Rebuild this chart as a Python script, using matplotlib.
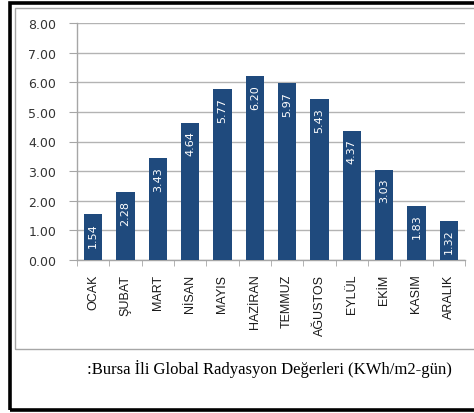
import matplotlib
matplotlib.use("Agg")
import matplotlib.pyplot as plt
from matplotlib.patches import Rectangle

months = ["OCAK", "ŞUBAT", "MART", "NİSAN", "MAYIS", "HAZİRAN", "TEMMUZ",
          "AĞUSTOS", "EYLÜL", "EKİM", "KASIM", "ARALIK"]
values = [1.54, 2.28, 3.43, 4.64, 5.77, 6.20, 5.97, 5.43, 4.37, 3.03, 1.83, 1.32]
yticks = [0, 1, 2, 3, 4, 5, 6, 7, 8]
caption = ":Bursa İli Global Radyasyon Değerleri (KWh/m2-gün)"

W, H = 474, 414
fig = plt.figure(figsize=(W / 100, H / 100), dpi=100)
fig.patch.set_facecolor("white")

# borders
fig.patches.append(Rectangle((9.5 / W, 1 - 410.5 / H), 500 / W, 407 / H,
                             transform=fig.transFigure, fill=False,
                             edgecolor="black", linewidth=2.6))
fig.patches.append(Rectangle((14.5 / W, 1 - 349.5 / H), 500 / W, 341 / H,
                             transform=fig.transFigure, fill=False,
                             edgecolor="#a6a6a6", linewidth=1.0))

left, right, top, bottom = 77, 465, 24.3, 260.7
ax = fig.add_axes([left / W, 1 - bottom / H, (right - left) / W, (bottom - top) / H])

x = list(range(len(months)))
bars = ax.bar(x, values, width=0.56, color="#1f4a7d", zorder=3)
ax.set_xlim(-0.5, len(months) - 0.5)
ax.set_ylim(0, 8)
ax.set_yticks(yticks)
ax.set_yticklabels([f"{v:.2f}" for v in yticks], fontsize=9, color="#333333",
                   family="DejaVu Sans")
ax.tick_params(axis="y", length=6, color="#a6a6a6", pad=9)
ax.set_xticks(x)
ax.set_xticklabels(months, rotation=90, fontsize=9, color="#1a1a1a",
                   family=["Liberation Sans Narrow", "Liberation Sans", "DejaVu Sans"])
ax.set_xticks([i - 0.5 for i in range(len(months) + 1)], minor=True)
ax.tick_params(axis="x", which="major", length=0, pad=10)
ax.tick_params(axis="x", which="minor", length=4, color="#a6a6a6")
for lab in ax.get_xticklabels():
    lab.set_verticalalignment("top")

ax.grid(axis="y", color="#b3b3b3", linewidth=1.0, zorder=0)
for s in ["top", "right"]:
    ax.spines[s].set_visible(False)
for s in ["left", "bottom"]:
    ax.spines[s].set_color("#a6a6a6")
    ax.spines[s].set_linewidth(1.0)

for xi, v in zip(x, values):
    ax.annotate(f"{v:.2f}", (xi, v), xytext=(0, -5.5), textcoords="offset points",
                rotation=90, ha="center", va="top", color="white", fontsize=8,
                zorder=4)

fig.text(269 / W, 1 - 369 / H, caption, ha="center", va="center",
         fontsize=12, family="Liberation Serif", color="black")

fig.savefig("out.png", dpi=100)
